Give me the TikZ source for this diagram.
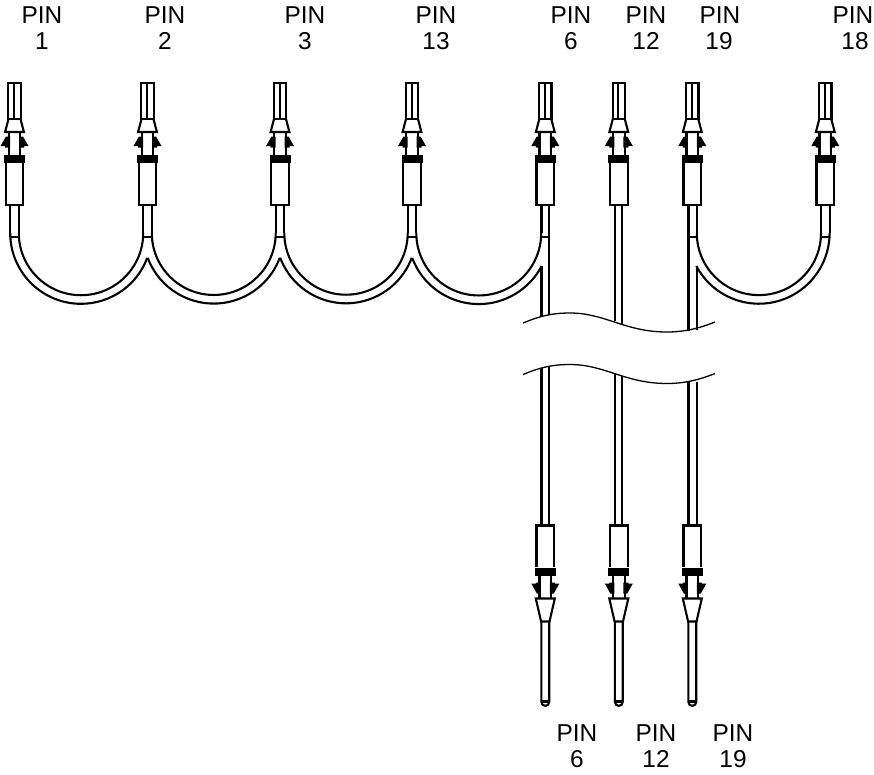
\documentclass[tikz,border=0pt]{standalone}
\usepackage{fontspec}
\setmainfont{Liberation Sans}
\tikzset{
  part/.style={line width=2.1pt,draw=black,line join=miter},
  wire/.style={line width=2.1pt,draw=black},
  wave/.style={line width=1.3pt,draw=black},
  barb/.style={fill=black,draw=none},
  band/.style={fill=black,draw=none},
  lbl/.style={font=\fontsize{24.4}{26}\selectfont,inner sep=0pt,anchor=center}
}
\newcommand{\topconn}[1]{%
  \begin{scope}[shift={(#1,0)}]
    \draw[part] (-6.2,120) -- (-6.2,83) -- (6.2,83) -- (6.2,120);
    \draw[part] (-0.4,83) -- (-0.4,120);
    \draw[part] (-6,119) -- (6,119);
    \draw[part] (-6,119) -- (-9.4,132) -- (9.4,132) -- (6,119);
    \draw[part] (-5.8,132) -- (-5.8,156) (5.8,132) -- (5.8,156);
    \fill[barb] (-8.5,136.5) -- (-14,146) -- (-9.5,146) -- (-9.5,147.5) -- (-4.5,147.5) -- (-4.5,136.5) -- cycle;
    \fill[barb] (8.5,136.5) -- (14,146) -- (9.5,146) -- (9.5,147.5) -- (4.5,147.5) -- (4.5,136.5) -- cycle;
    \fill[band] (-10.5,155) rectangle (10.5,162.5);
    \draw[part] (-8.8,162) rectangle (8.8,205);
  \end{scope}}
\newcommand{\botconn}[1]{%
  \begin{scope}[shift={(#1,0)}]
    \draw[part] (-8.8,567) -- (-8.8,525.5) -- (8.8,525.5) -- (8.8,567);
    \fill[band] (-10.5,568) rectangle (10.5,576);
    \draw[part] (-5.8,576) -- (-5.8,598) (5.8,576) -- (5.8,598);
    \fill[barb] (-8.5,593.5) -- (-14,583.5) -- (-9.5,583.5) -- (-9.5,582.5) -- (-4.5,582.5) -- (-4.5,593.5) -- cycle;
    \fill[barb] (8.5,593.5) -- (14,583.5) -- (9.5,583.5) -- (9.5,582.5) -- (4.5,582.5) -- (4.5,593.5) -- cycle;
    \draw[part] (-9.5,598.5) -- (9.5,598.5) -- (4.2,621.5) -- (-4.2,621.5) -- cycle;
    \draw[part] (-3.9,621.5) -- (-3.9,702) arc[start angle=180,end angle=0,radius=3.9] -- (3.9,621.5);
    \draw[part] (-3.9,701.5) -- (3.9,701.5);
  \end{scope}}
\newcommand{\breakline}[1]{%
  \draw[wave] (523,#1+10) .. controls (540,#1+3) and (552,#1) .. (570,#1)
    .. controls (605,#1) and (625,#1+19) .. (667,#1+19)
    .. controls (685,#1+19) and (700,#1+15) .. (715,#1+9);}
\begin{document}
\begin{tikzpicture}[x=1pt,y=-1pt]
\useasboundingbox (0,0) rectangle (874,774);
% labels
\foreach \n/\x/\t/\xx in {a/42/1/42,b/165/2/165,c/305/3/305,d/436/13/436,e/571/6/571,f/646/12/646,g/720/19/719,h/853/18/855}{
  \node[lbl] (p\n) at (\x,15.3) {PIN};
  \node[lbl] (n\n) at (\xx,41) {\t};
}
\foreach \n/\x/\t in {i/577/6,j/656/12,k/733/19}{
  \node[lbl] (p\n) at (\x,733.5) {PIN};
  \node[lbl] (n\n) at (\x,759) {\t};
}
% top connectors
\foreach \c in {14.5,147.5,280,412,545.3,618.8,692.3,825.3}{\topconn{\c}}
% bottom connectors
\foreach \c in {545.3,618.8,692.3}{\botconn{\c}}
% wires with two lines down to the arcs
\foreach \c in {14.5,147.5,280,412,825.3}{
  \draw[wire] (\c-4.3,205) -- (\c-4.3,233) (\c+4.3,205) -- (\c+4.3,233);
  \draw[wire] (\c-4.3,237) -- (\c+4.3,237);
}
% arcs: left end, right end, left angle, right angle
\foreach \a/\b/\sa/\ea in {14.5/147.5/0/20.6,147.5/280/20.6/20.6,280/412/20.6/20.6,412/545.5/20.6/27.7,692.5/825.3/27.7/0}{
  \pgfmathsetmacro{\m}{(\a+\b)/2}
  \pgfmathsetmacro{\hw}{(\b-\a)/2}
  \pgfmathsetmacro{\ri}{\hw-4.3}
  \pgfmathsetmacro{\ro}{\hw+4.3}
  \draw[wire] (\m-\ri,233) arc[start angle=180,end angle=0,radius=\ri];
  \draw[wire] (\m,233) ++(180-\sa:\ro) arc[start angle=180-\sa,end angle=\ea,radius=\ro];
}
% wire 6
\draw[wire] (541.5,205) -- (541.5,233) (549.3,205) -- (549.3,315.2);
\draw[wire] (541.5,237) -- (549.3,237);
\draw[wire] (541.5,266) -- (541.5,316.8);
\draw[wire] (541.5,367.5) -- (541.5,525) (549.3,366.5) -- (549.3,525);
% wire 12
\draw[wire] (615.3,205) -- (615.3,321) (622.3,205) -- (622.3,324);
\draw[wire] (615.3,372.5) -- (615.3,525) (622.3,375.5) -- (622.3,525);
% wire 19
\draw[wire] (688.5,205) -- (688.5,330.5) (696.6,205) -- (696.6,233);
\draw[wire] (688.5,237) -- (696.6,237);
\draw[wire] (696.6,266) -- (696.6,330);
\draw[wire] (688.5,382) -- (688.5,525) (696.6,381.5) -- (696.6,525);
% break lines
\breakline{313}
\breakline{364.5}
\end{tikzpicture}
\end{document}
